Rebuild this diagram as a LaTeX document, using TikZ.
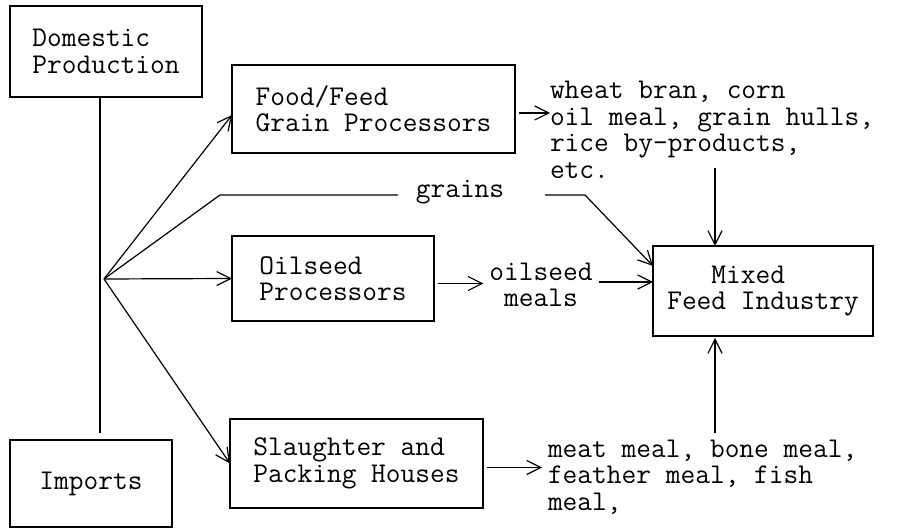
\documentclass[tikz,border=0pt]{standalone}
\usepackage{fontspec}
\usetikzlibrary{arrows.meta}
\newcommand\twfont{\ttfamily\fontsize{14.3}{13.25}\selectfont}
\begin{document}
\begin{tikzpicture}[x=0.5pt,y=-0.5pt,
  box/.style={draw, line width=0.7pt, inner sep=0pt, outer sep=0pt, font=\twfont, align=left},
  lbl/.style={inner sep=0pt, outer sep=0pt, font=\twfont},
  arr/.style={line width=0.6pt, -{Straight Barb[length=7pt,width=7pt]}},
  ln/.style={line width=0.6pt}]
\useasboundingbox (0,0) rectangle (903,528);

% boxes
\node[box, minimum width=96pt, minimum height=45.5pt] (dom) at (106,51.5) {Domestic\\Production};
\node[box, minimum width=81pt, minimum height=43.5pt] (imp) at (91,483.5) {Imports};
\node[box, minimum width=141.5pt, minimum height=44pt] (food) at (373.5,109) {Food/Feed\\Grain Processors};
\node[box, minimum width=101pt, minimum height=42.5pt] (oil) at (333,278.5) {Oilseed\\Processors};
\node[box, minimum width=126.5pt, minimum height=44.5pt] (sla) at (356.5,463.5) {Slaughter and\\Packing Houses};
\node[box, minimum width=110pt, minimum height=45pt] (mix) at (763,291) {\phantom{Fee}Mixed\\Feed Industry};

% labels
\node[lbl, align=left, anchor=west] (wheat) at (550,130) {wheat bran, corn\\oil meal, grain hulls,\\rice by-products,\\etc.};
\node[lbl, align=center] (om) at (541,285) {oilseed\\meals};
\node[lbl, align=left, anchor=west] (meat) at (548,477) {meat meal, bone meal,\\feather meal, fish\\meal,};
\node[lbl] (grains) at (460,192) {grains};

% coordinates
\coordinate (fan) at (104,279);
\coordinate (vb) at (100,433);
\coordinate (g1) at (220,195);
\coordinate (g2) at (398,195);
\coordinate (g3) at (545,195);
\coordinate (g4) at (585,195);
\coordinate (a1) at (715,168);
\coordinate (a2) at (715,433);

% connectors
\draw[ln] (vb |- dom.south) -- (vb);
\draw[arr] (fan) -- ([yshift=-3pt]food.west);
\draw[ln] (fan) -- (g1) -- (g2);
\draw[arr] (g3) -- (g4) -- ([yshift=-10pt]mix.north west);
\draw[arr] (fan) -- (oil.west);
\draw[arr] (fan) -- (sla.west);
\draw[arr] ([yshift=-2pt,xshift=2pt]food.east) -- ([yshift=-2pt]wheat.west |- food.east);
\draw[arr] ([xshift=2pt,yshift=-2.5pt]oil.east) -- ([xshift=-3pt,yshift=-2.5pt]oil.east -| om.west);
\draw[arr] ([xshift=3pt,yshift=1.5pt]om.east) -- ([yshift=1.5pt]om.east -| mix.west);
\draw[arr] (a1) -- (a1 |- mix.north);
\draw[arr] (a2) -- ([yshift=-1pt]a2 |- mix.south);
\draw[arr] ([xshift=2pt,yshift=-2pt]sla.east) -- ([xshift=-3pt,yshift=-2pt]sla.east -| meat.west);
\end{tikzpicture}
\end{document}
